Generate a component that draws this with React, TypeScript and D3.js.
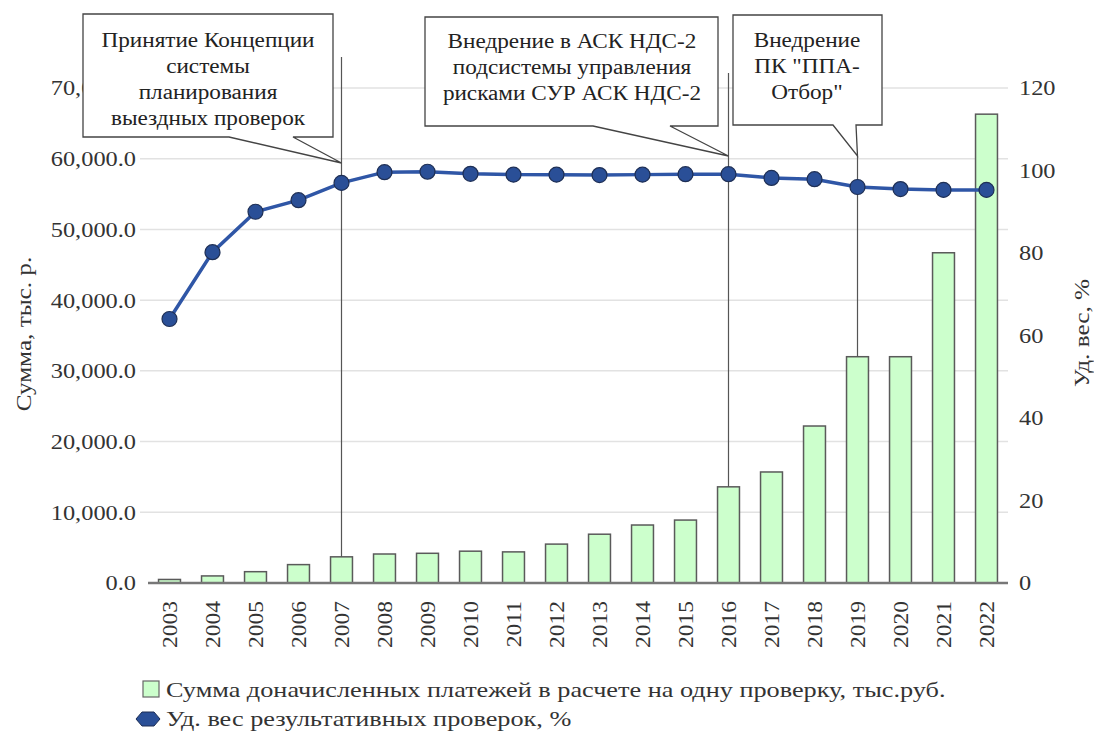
import React from 'react'
import * as d3 from 'd3'

// данные с графика
const years = ['2003', '2004', '2005', '2006', '2007', '2008', '2009', '2010', '2011', '2012',
  '2013', '2014', '2015', '2016', '2017', '2018', '2019', '2020', '2021', '2022']
const sums = [500, 1000, 1600, 2600, 3700, 4100, 4200, 4500, 4400, 5500,
  6900, 8200, 8900, 13600, 15700, 22200, 32000, 32000, 46700, 66300]
const shares = [64, 80.2, 90, 92.8, 97, 99.6, 99.7, 99.2, 99, 99,
  98.9, 99, 99.1, 99.1, 98.2, 97.9, 96, 95.5, 95.3, 95.3]
const leftTicks = [0, 10000, 20000, 30000, 40000, 50000, 60000, 70000]
const rightTicks = [0, 20, 40, 60, 80, 100, 120]
const barLabel = 'Сумма доначисленных платежей в расчете на одну проверку, тыс.руб.'
const lineLabel = 'Уд. вес результативных проверок, %'

// выноски
const notes = [
  { year: '2007', lines: ['Принятие Концепции', 'системы', 'планирования', 'выездных проверок'] },
  { year: '2016', lines: ['Внедрение в АСК НДС-2', 'подсистемы управления', 'рисками СУР АСК НДС-2'] },
  { year: '2019', lines: ['Внедрение', 'ПК "ППА-', 'Отбор"'] },
]
// геометрия выносок (рамка, хвост, начало вертикальной линии)
const noteBoxes = [
  { x0: 83, y0: 14, x1: 333, y1: 137, pl: 229, pr: 293, tipY: 163, lineTop: 57, cx: 208, base: 47 },
  { x0: 425, y0: 17, x1: 718, y1: 126, pl: 593, pr: 670, tipY: 156, lineTop: 73, cx: 572, base: 48 },
  { x0: 733, y0: 15, x1: 882, y1: 125, pl: 833, pr: 856, tipY: 156, lineTop: 156, cx: 807, base: 47 },
]

const W = 1094
const H = 731
const m = { left: 148, right: 86, top: 88, bottom: 148 }
const FONT = '"Liberation Serif", "Times New Roman", serif'
const TXT = '#333'
const SX = 1.16 // шрифт в оригинале шире

type TProps = { x: number, y: number, size: number, anchor?: string, rot?: number, sx?: number, fill?: string, dy?: string, children: React.ReactNode }
const T = ({ x, y, size, anchor = 'start', rot = 0, sx = SX, fill = TXT, dy, children }: TProps) => (
  <text transform={`translate(${x},${y}) rotate(${rot}) scale(${sx},1)`} textAnchor={anchor}
    fontSize={size} fill={fill} dy={dy} style={{ fontFamily: FONT }}>{children}</text>
)

export default function App() {
  const x = d3.scaleBand().domain(years).range([m.left, W - m.right]).paddingInner(0.49).paddingOuter(0.245)
  const yL = d3.scaleLinear().domain([0, 70000]).range([H - m.bottom, m.top])
  const yR = d3.scaleLinear().domain([0, 120]).range([H - m.bottom, m.top])
  const cx = (d: string) => (x(d) || 0) + x.bandwidth() / 2
  const line = d3.line<number>().x((_, i) => cx(years[i])).y((d) => yR(d))
  const fmt = d3.format(',.1f')
  const y0 = H - m.bottom

  return (
    <svg width={W} height={H} style={{ position: 'absolute', left: 0, top: 0, background: '#fff' }}>
      {leftTicks.map((t) => (
        <g key={t}>
          {t > 0 && <line x1={m.left - 8} x2={W - m.right} y1={yL(t)} y2={yL(t)} stroke="#e2e2e2" strokeWidth={1.5} />}
          <T x={136} y={yL(t)} dy="0.35em" anchor="end" size={21}>{fmt(t)}</T>
        </g>
      ))}
      {rightTicks.map((t) => (
        <T key={t} x={1019} y={yR(t)} dy="0.35em" size={21}>{t}</T>
      ))}
      <T x={31} y={334} rot={-90} anchor="middle" size={21} sx={1.2}>Сумма, тыс. р.</T>
      <T x={1089} y={333} rot={-90} anchor="middle" size={21} sx={1.2}>Уд. вес, %</T>

      {years.map((yr, i) => (
        <rect key={yr} x={x(yr)} y={yL(sums[i])} width={x.bandwidth()} height={y0 - yL(sums[i])}
          fill="#ccffcc" stroke="#5a5a5a" strokeWidth={1.5} />
      ))}
      <line x1={m.left} x2={W - m.right} y1={y0} y2={y0} stroke="#777" strokeWidth={2.5} />
      {years.map((yr) => (
        <T key={yr} x={cx(yr)} y={y0 + 18} rot={-90} dy="0.35em" anchor="end" size={21} sx={1.12}>{yr}</T>
      ))}

      {notes.map((n, i) => {
        const b = noteBoxes[i]
        const idx = years.indexOf(n.year)
        const lx = cx(n.year)
        return (
          <g key={n.year}>
            <line x1={lx} x2={lx} y1={b.lineTop} y2={yL(sums[idx])} stroke="#555" strokeWidth={1.2} />
            <path d={`M${b.x0},${b.y0}H${b.x1}V${b.y1}H${b.pr}L${lx},${b.tipY}L${b.pl},${b.y1}H${b.x0}Z`}
              fill="#fff" stroke="#444" strokeWidth={1.3} />
            {n.lines.map((s, j) => (
              <T key={j} x={b.cx} y={b.base + j * 26} anchor="middle" size={20} fill="#222">{s}</T>
            ))}
          </g>
        )
      })}

      <path d={line(shares) || ''} fill="none" stroke="#2f56a6" strokeWidth={3.5} />
      {shares.map((v, i) => (
        <circle key={i} cx={cx(years[i])} cy={yR(v)} r={7.5} fill="#2a4f97" stroke="#1e2f55" strokeWidth={1.2} />
      ))}

      <rect x={143} y={681} width={16} height={16} fill="#ccffcc" stroke="#666" strokeWidth={1.2} />
      <T x={166} y={697} size={21} sx={1.25}>{barLabel}</T>
      <line x1={137} x2={159} y1={719} y2={719} stroke="#2f56a6" strokeWidth={3} />
      <path d="M136,719 L142,712 H154 L160,719 L154,726 H142 Z" fill="#2a4f97" stroke="#1e2f55" strokeWidth={1} />
      <T x={166} y={726} size={21} sx={1.25}>{lineLabel}</T>
    </svg>
  )
}
